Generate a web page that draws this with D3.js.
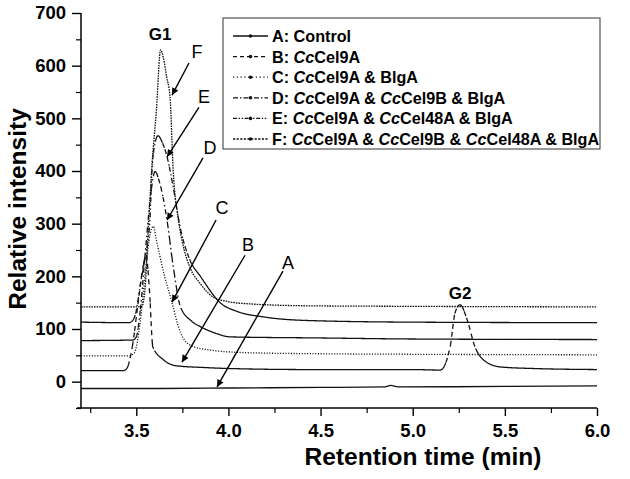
<!DOCTYPE html>
<html><head><meta charset="utf-8">
<script src="https://cdn.jsdelivr.net/npm/d3@7"></script>
<style>
body{margin:0;background:#fff}
svg{display:block}
text{font-family:"Liberation Sans",Arial,Helvetica,sans-serif;fill:#000}
</style>
</head><body>
<svg id="chart" width="630" height="479"></svg>
<script>
// ---------------- data ----------------
const xTicks = [3.5, 4.0, 4.5, 5.0, 5.5, 6.0];
const xMinorTicks = [3.25, 3.75, 4.25, 4.75, 5.25, 5.75];
const yTicks = [0, 100, 200, 300, 400, 500, 600, 700];
const yMinorTicks = [-50, 50, 150, 250, 350, 450, 550, 650];

const seriesKeys = ["A", "B", "C", "D", "E", "F"];
const legendLabels = [
  "A: Control",
  "B: *Cc*Cel9A",
  "C: *Cc*Cel9A & BlgA",
  "D: *Cc*Cel9A & *Cc*Cel9B & BlgA",
  "E: *Cc*Cel9A & *Cc*Cel48A & BlgA",
  "F: *Cc*Cel9A & *Cc*Cel9B & *Cc*Cel48A & BlgA"
];

const timeA = [3.2, 3.6, 4.0, 4.5, 4.85, 4.88, 4.92, 5.5, 6.0];
const valA  = [-13, -13, -12, -11, -10, -7, -10, -9, -8];

const timeB = [3.2, 3.43, 3.45, 3.48, 3.51, 3.535, 3.553, 3.572, 3.59, 3.646, 3.72, 3.86, 4.0, 4.44, 5.0, 5.149, 5.203, 5.23, 5.257, 5.295, 5.338, 5.382, 5.474, 5.653, 6.0];
const valB  = [21, 21, 26, 70, 150, 215, 240, 170, 66, 42, 30, 27, 25, 23, 23, 22, 66, 131, 146, 118, 66, 42, 28, 25, 23];

const timeC = [3.2, 3.46, 3.49, 3.52, 3.55, 3.575, 3.592, 3.609, 3.65, 3.69, 3.74, 3.80, 3.9, 4.1, 4.5, 5.0, 6.0];
const valC  = [49, 49, 55, 110, 210, 280, 295, 269, 205, 155, 93, 68, 60, 55, 53, 52, 51];

const timeD = [3.2, 3.48, 3.50, 3.52, 3.55, 3.58, 3.602, 3.625, 3.667, 3.70, 3.74, 3.80, 3.85, 3.93, 4.01, 4.5, 5.0, 6.0];
const valD  = [78, 79, 85, 130, 250, 360, 399, 380, 306, 220, 142, 115, 104, 92, 85, 83, 81, 80];

const timeE = [3.2, 3.46, 3.48, 3.50, 3.52, 3.55, 3.574, 3.585, 3.60, 3.618, 3.64, 3.667, 3.70, 3.74, 3.79, 3.85, 3.955, 4.05, 4.19, 4.44, 5.0, 6.0];
const valE  = [113, 112, 116, 135, 180, 240, 307, 400, 450, 467, 455, 427, 370, 290, 232, 199, 150, 133, 123, 116, 113, 112];

const timeF = [3.2, 3.5, 3.53, 3.547, 3.565, 3.585, 3.609, 3.632, 3.647, 3.665, 3.683, 3.70, 3.726, 3.737, 3.76, 3.79, 3.85, 3.915, 4.0, 4.1, 4.44, 5.0, 6.0];
const valF  = [142, 142, 143, 174, 290, 410, 515, 630, 615, 578, 541, 402, 313, 288, 250, 218, 185, 161, 152, 148, 144, 143, 142];

// annotation letters with arrows (data coordinates)
const annLetters = ["F", "E", "D", "C", "B", "A"];
const annLabelX = [3.829, 3.867, 3.900, 3.965, 4.106, 4.323];
const annLabelY = [626, 540, 443, 330, 260, 226];
const annFromX  = [3.786, 3.840, 3.862, 3.933, 4.090, 4.296];
const annFromY  = [605, 521, 425, 307, 240, 210];
const annToX    = [3.694, 3.667, 3.667, 3.694, 3.748, 3.938];
const annToY    = [544, 427, 307, 151, 37, -10];

const peakLabels = ["G1", "G2"];
const peakLabelX = [3.629, 5.257];
const peakLabelY = [660, 168];

// ---------------- styles ----------------
const traceDash  = {A: null, B: "5,4", C: "1.1,1.6", D: "5,3,1.5,3", E: "5,2.5,1.4,2.5,1.4,2.5", F: "1.6,1"};
const restartDash = {A: false, B: true, C: false, D: true, E: true, F: false};
const legendDash = {A: null, B: "4,3", C: "1.2,2.6", D: "5,2,1.5,2", E: "4,1.6,1.4,1.6,1.4,1.6", F: "2.2,1.4"};

// ---------------- chart ----------------
const svg = d3.select("#chart");
const x = d3.scaleLinear().domain([3.2, 6.0]).range([81, 597]);
const y = d3.scaleLinear().domain([-50, 700]).range([408, 13]);

const series = {
  A: d3.zip(timeA, valA), B: d3.zip(timeB, valB), C: d3.zip(timeC, valC),
  D: d3.zip(timeD, valD), E: d3.zip(timeE, valE), F: d3.zip(timeF, valF)
};

svg.append("defs").append("clipPath").attr("id", "plotclip")
  .append("rect").attr("x", x(3.2)).attr("y", y(700) - 5)
  .attr("width", x(6.0) - x(3.2) + 1).attr("height", y(-50) - y(700) + 5);

const line = d3.line().x(d => x(d[0])).y(d => y(d[1])).curve(d3.curveMonotoneX);
const plot = svg.append("g").attr("clip-path", "url(#plotclip)");

// dash pattern restarts on every short piece, as in the original plotting software:
// flat stretches look solid, steep flanks show the dash pattern.
function segmentedD(data) {
  const tmp = svg.append("path").attr("d", line(data)).attr("fill", "none");
  const node = tmp.node();
  const L = node.getTotalLength();
  const pts = [];
  for (let l = 0; l < L; l += 0.5) { const p = node.getPointAtLength(l); pts.push([p.x, p.y]); }
  const e = node.getPointAtLength(L); pts.push([e.x, e.y]);
  tmp.remove();
  const f = v => v.toFixed(2);
  let d = "M" + f(pts[0][0]) + "," + f(pts[0][1]);
  let sx = pts[0][0];
  for (let i = 1; i < pts.length; i++) {
    const p = pts[i];
    d += "L" + f(p[0]) + "," + f(p[1]);
    if (p[0] - sx >= 2.2 && i < pts.length - 1) { sx = p[0]; d += "M" + f(p[0]) + "," + f(p[1]); }
  }
  return d;
}

seriesKeys.forEach(k => {
  const p = plot.append("path")
    .attr("fill", "none").attr("stroke", "#111").attr("stroke-width", 1.3)
    .attr("stroke-linejoin", "round");
  if (restartDash[k]) p.attr("d", segmentedD(series[k]));
  else p.attr("d", line(series[k]));
  if (traceDash[k]) p.attr("stroke-dasharray", traceDash[k]);
});

// axes
const axisFont = "bold 18.5px 'Liberation Sans', Arial, sans-serif";
const xAxis = svg.append("g").attr("transform", `translate(0,${y(-50)})`)
  .call(d3.axisBottom(x).tickValues(xTicks).tickSize(8).tickSizeOuter(0).tickPadding(8).tickFormat(d3.format(".1f")));
xAxis.select(".domain").attr("stroke-width", 1.5).attr("d", `M${x(3.2) - 4},0H${x(6.0)}`);
xAxis.selectAll(".tick line").attr("stroke-width", 1.4);
xAxis.selectAll("text").style("font", axisFont).attr("fill", "#000");
const xMinor = svg.append("g").attr("transform", `translate(0,${y(-50)})`)
  .call(d3.axisBottom(x).tickValues(xMinorTicks).tickSize(5).tickSizeOuter(0).tickFormat(""));
xMinor.select(".domain").remove();
xMinor.selectAll(".tick line").attr("stroke-width", 1.2);

const yAxis = svg.append("g").attr("transform", `translate(${x(3.2)},0)`)
  .call(d3.axisLeft(y).tickValues(yTicks).tickSize(9).tickSizeOuter(0).tickPadding(6));
yAxis.select(".domain").attr("stroke-width", 1.5).attr("d", `M0,${y(700)}V${y(-50)}`);
yAxis.selectAll(".tick line").attr("stroke-width", 1.4);
yAxis.selectAll("text").style("font", axisFont).attr("fill", "#000");
const yMinor = svg.append("g").attr("transform", `translate(${x(3.2)},0)`)
  .call(d3.axisLeft(y).tickValues(yMinorTicks).tickSize(5).tickSizeOuter(0).tickFormat(""));
yMinor.select(".domain").remove();
yMinor.selectAll(".tick line").attr("stroke-width", 1.2);

// axis titles
svg.append("text").attr("x", 423).attr("y", 465).attr("text-anchor", "middle")
  .style("font", "bold 24.5px 'Liberation Sans', Arial, sans-serif").text("Retention time (min)");
svg.append("text").attr("transform", "translate(26,209) rotate(-90)").attr("text-anchor", "middle")
  .style("font", "bold 24.5px 'Liberation Sans', Arial, sans-serif").text("Relative intensity");

// arrows
const defs = svg.select("defs");
defs.append("marker").attr("id", "ah").attr("viewBox", "0 0 10 10").attr("refX", 10).attr("refY", 5)
  .attr("markerWidth", 10).attr("markerHeight", 7).attr("markerUnits", "userSpaceOnUse").attr("orient", "auto")
  .append("path").attr("d", "M0,0L10,5L0,10Z").attr("fill", "#000");

annLetters.forEach((L, i) => {
  svg.append("line")
    .attr("x1", x(annFromX[i])).attr("y1", y(annFromY[i]))
    .attr("x2", x(annToX[i])).attr("y2", y(annToY[i]))
    .attr("stroke", "#000").attr("stroke-width", 1.4).attr("marker-end", "url(#ah)");
  svg.append("text").attr("x", x(annLabelX[i])).attr("y", y(annLabelY[i]))
    .attr("text-anchor", "middle").attr("dominant-baseline", "central")
    .style("font", "18px 'Liberation Sans', Arial, sans-serif").text(L);
});
peakLabels.forEach((L, i) => {
  svg.append("text").attr("x", x(peakLabelX[i])).attr("y", y(peakLabelY[i]))
    .attr("text-anchor", "middle").attr("dominant-baseline", "central")
    .style("font", "bold 17px 'Liberation Sans', Arial, sans-serif").text(L);
});

// legend
const lg = svg.append("g");
lg.append("rect").attr("x", 223).attr("y", 18).attr("width", 377).attr("height", 131)
  .attr("fill", "#fff").attr("stroke", "#444").attr("stroke-width", 1.1);
seriesKeys.forEach((k, i) => {
  const cy = 36 + i * 20.6;
  const l = lg.append("line").attr("x1", 233).attr("x2", 268).attr("y1", cy).attr("y2", cy)
    .attr("stroke", "#111").attr("stroke-width", 1.3);
  if (legendDash[k]) l.attr("stroke-dasharray", legendDash[k]);
  lg.append("circle").attr("cx", 250.5).attr("cy", cy).attr("r", 1.8).attr("fill", "#111");
  const t = lg.append("text").attr("x", 272).attr("y", cy).attr("dominant-baseline", "central")
    .style("font", "bold 16.2px 'Liberation Sans', Arial, sans-serif");
  legendLabels[i].split("*").forEach((part, j) => {
    if (!part) return;
    const ts = t.append("tspan").text(part);
    if (j % 2 === 1) ts.style("font-style", "italic");
  });
});
</script>
</body></html>
